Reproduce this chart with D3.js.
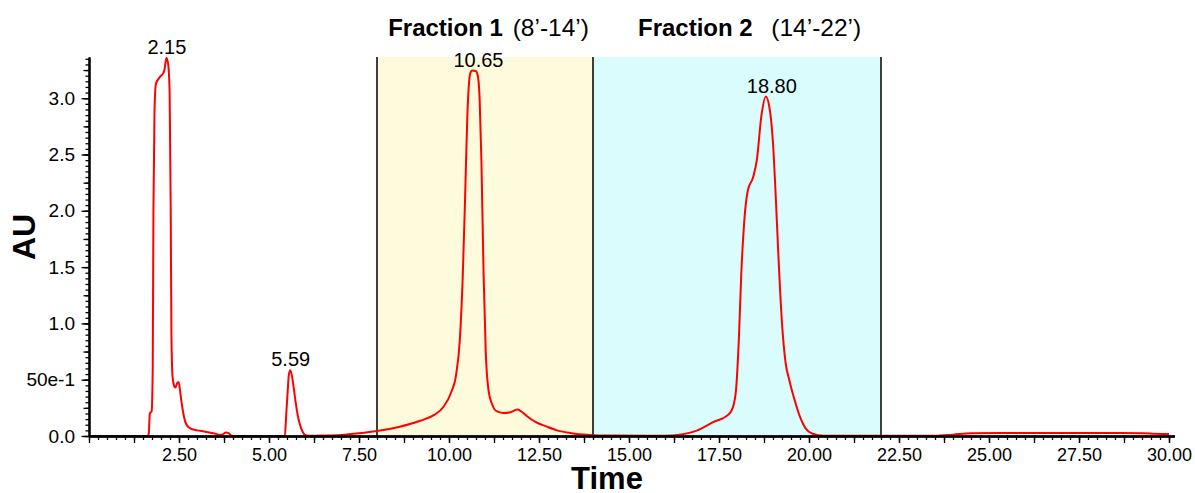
<!DOCTYPE html>
<html>
<head>
<meta charset="utf-8">
<script src="https://cdn.jsdelivr.net/npm/d3@7"></script>
<style>
  html, body { margin: 0; padding: 0; background: #fff; }
  svg { display: block; font-family: "Liberation Sans", Arial, Helvetica, sans-serif; }
</style>
</head>
<body>
<svg id="chart" width="1195" height="493"></svg>
<script>
// Chromatogram trace: retention time (min) and absorbance (AU)
const timeMin = [
  0, 1.62, 1.66, 1.69, 1.74, 1.77, 1.79, 1.82, 1.86, 1.93, 2.0, 2.06, 2.1, 2.15, 2.2, 2.24, 2.27, 2.29,
  2.32, 2.36, 2.4, 2.45, 2.49, 2.53, 2.57, 2.62, 2.67, 2.73, 2.8, 3.0, 3.2, 3.45, 3.65, 3.72, 3.8, 3.88,
  3.95, 4.05, 5.44, 5.48, 5.52, 5.55, 5.59, 5.64, 5.69, 5.74, 5.8, 5.86, 5.93, 6.0, 6.1, 6.5, 7.0, 7.5,
  8.0, 8.6, 9.2, 9.6, 9.85, 10.05, 10.2, 10.3, 10.38, 10.45, 10.51, 10.56, 10.6, 10.65, 10.75, 10.8,
  10.85, 10.9, 10.96, 11.02, 11.1, 11.2, 11.32, 11.5, 11.7, 11.9, 12.0, 12.15, 12.4, 12.7, 13.0, 13.4,
  13.9, 14.5, 15.5, 16.0, 16.4, 16.9, 17.35, 17.76, 17.88, 17.97, 18.05, 18.12, 18.2, 18.3, 18.45,
  18.55, 18.68, 18.8, 18.9, 19.0, 19.08, 19.15, 19.25, 19.35, 19.45, 19.6, 19.75, 19.9, 20.1, 20.4,
  23.5, 24.0, 24.5, 25.5, 27.0, 28.5, 29.3, 29.6, 30.0
];
const absorbance = [
  0, 0, 0.02, 0.2, 0.22, 0.6, 2.0, 2.9, 3.13, 3.17, 3.2, 3.22, 3.26, 3.36, 3.3, 3.05, 2.0, 0.9,
  0.53, 0.45, 0.43, 0.47, 0.48, 0.4, 0.3, 0.2, 0.13, 0.09, 0.07, 0.05, 0.04, 0.025, 0.01, 0.015, 0.03, 0.025,
  0.005, 0, 0, 0.2, 0.4, 0.54, 0.585, 0.53, 0.42, 0.3, 0.18, 0.1, 0.04, 0.01, 0.002, 0.004, 0.01, 0.025,
  0.045, 0.08, 0.135, 0.19, 0.26, 0.38, 0.55, 0.85, 1.4, 2.15, 2.85, 3.15, 3.23, 3.245, 3.24, 3.2,
  3.0, 2.45, 1.45, 0.75, 0.4, 0.28, 0.22, 0.205, 0.21, 0.235, 0.22, 0.18, 0.125, 0.085, 0.05, 0.025,
  0.01, 0.004, 0.002, 0.003, 0.012, 0.05, 0.125, 0.19, 0.25, 0.4, 0.85, 1.45, 1.9, 2.18, 2.3,
  2.45, 2.85, 3.015, 2.92, 2.6, 2.1, 1.6, 1.0, 0.65, 0.5, 0.32, 0.17, 0.07, 0.02, 0.002,
  0.002, 0.012, 0.024, 0.026, 0.027, 0.026, 0.025, 0.02, 0.018
];

// Peak annotations (retention times)
const peakTimes = [2.15, 5.59, 10.65, 18.80];
const peakLabels = ["2.15", "5.59", "10.65", "18.80"];

// Collected fractions
const fractionStart = [8, 14];
const fractionEnd = [14, 22];
const fractionName = ["Fraction 1", "Fraction 2"];
const fractionRange = [" (8\u2019-14\u2019)", "  (14\u2019-22\u2019)"];
const fractionFill = ["#fefadc", "#dafcfc"];

// Axis ticks
const xTickValues = [2.5, 5, 7.5, 10, 12.5, 15, 17.5, 20, 22.5, 25, 27.5, 30];
const xTickLabels = ["2.50", "5.00", "7.50", "10.00", "12.50", "15.00", "17.50", "20.00", "22.50", "25.00", "27.50", "30.00"];
const yTickValues = [0, 0.5, 1.0, 1.5, 2.0, 2.5, 3.0];
const yTickLabels = ["0.0", "50e-1", "1.0", "1.5", "2.0", "2.5", "3.0"];

const svg = d3.select("#chart");
const x = d3.scaleLinear().domain([0, 30.15]).range([89, 1174.4]);
const y = d3.scaleLinear().domain([0, 3.366]).range([436, 57]);
const trace = timeMin.map((t, i) => ({ t, v: absorbance[i] }));

// fraction shading and boundaries
const fr = svg.append("g");
fractionStart.forEach((s, i) => {
  fr.append("rect")
    .attr("x", x(s)).attr("y", y.range()[1])
    .attr("width", x(fractionEnd[i]) - x(s))
    .attr("height", y(0) - y.range()[1])
    .attr("fill", fractionFill[i]);
});
const bounds = Array.from(new Set(fractionStart.concat(fractionEnd)));
fr.selectAll("line.bound").data(bounds).join("line")
  .attr("class", "bound")
  .attr("x1", d => x(d)).attr("x2", d => x(d))
  .attr("y1", y.range()[1]).attr("y2", y(0))
  .attr("stroke", "#000").attr("stroke-width", 1.5);

// fraction titles
const titleStartT = [8.31, 15.25];
const rangeShift = [3, 5];
fractionName.forEach((n, i) => {
  const t = svg.append("text")
    .attr("x", x(titleStartT[i])).attr("y", 36)
    .attr("font-size", 24).attr("fill", "#000")
    .style("white-space", "pre");
  t.append("tspan").attr("font-weight", "bold").text(n);
  t.append("tspan").attr("dx", rangeShift[i]).attr("font-size", 24.5).text(fractionRange[i]);
});

// absorbance trace
svg.append("path")
  .datum(trace)
  .attr("fill", "none")
  .attr("stroke", "#ff0000")
  .attr("stroke-width", 2)
  .attr("stroke-linejoin", "round")
  .attr("d", d3.line().x(d => x(d.t)).y(d => y(d.v)).curve(d3.curveMonotoneX));

// x axis: minor, medium, major ticks
const xMinor = d3.range(0, 121).map(i => i * 0.25);
const xMid = d3.range(0, 25).map(i => i * 1.25);
const gx = svg.append("g").attr("transform", `translate(0,${y(0)})`);
gx.append("g").call(d3.axisBottom(x).tickValues(xMinor).tickSize(4).tickSizeOuter(0).tickFormat(""));
gx.append("g").call(d3.axisBottom(x).tickValues(xMid).tickSize(7).tickSizeOuter(0).tickFormat(""));
gx.append("g").call(d3.axisBottom(x).tickValues(xTickValues).tickSize(7).tickSizeOuter(0).tickPadding(5)
  .tickFormat((d, i) => xTickLabels[i]));

// y axis: minor, medium, major ticks
const yMinor = d3.range(0, 68).map(i => i * 0.05);
const yMid = d3.range(0, 14).map(i => i * 0.25);
const gy = svg.append("g").attr("transform", `translate(${x(0)},0)`);
gy.append("g").call(d3.axisLeft(y).tickValues(yMinor).tickSize(3.5).tickSizeOuter(0).tickFormat(""));
gy.append("g").call(d3.axisLeft(y).tickValues(yMid).tickSize(5.5).tickSizeOuter(0).tickFormat(""));
gy.append("g").call(d3.axisLeft(y).tickValues(yTickValues).tickSize(7.5).tickSizeOuter(0).tickPadding(6.5)
  .tickFormat((d, i) => yTickLabels[i]));

svg.selectAll(".domain").attr("stroke", "#000").attr("stroke-width", 1.8);
svg.selectAll(".tick line").attr("stroke", "#000").attr("stroke-width", 1.3);
gx.selectAll(".tick text").attr("font-size", 18).attr("fill", "#000").attr("font-family", null);
gy.selectAll(".tick text").attr("font-size", 19).attr("fill", "#000").attr("font-family", null);

// peak labels
peakTimes.forEach((pt, i) => {
  const near = trace.filter(d => Math.abs(d.t - pt) < 0.2);
  const top = d3.max(near, d => d.v);
  svg.append("text")
    .attr("x", x(pt) - 19).attr("y", y(top) - 4)
    .attr("font-size", 20).attr("fill", "#000")
    .text(peakLabels[i]);
});

// axis titles
svg.append("text")
  .attr("x", 607).attr("y", 489)
  .attr("text-anchor", "middle")
  .attr("font-size", 31).attr("font-weight", "bold")
  .text("Time");
svg.append("text")
  .attr("transform", "translate(34.5,237) rotate(-90)")
  .attr("text-anchor", "middle")
  .attr("font-size", 32).attr("font-weight", "bold")
  .text("AU");
</script>
</body>
</html>
